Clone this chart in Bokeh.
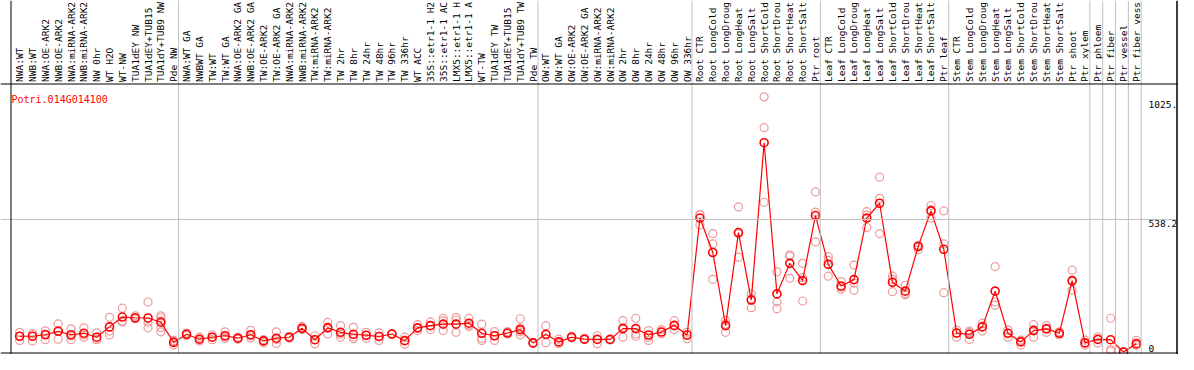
import numpy as np
from bokeh.plotting import figure
from bokeh.models import Range1d, Span
from bokeh.core.properties import value
from bokeh.embed import file_html
from bokeh.resources import INLINE

gene = "Potri.014G014100"

labels = [
    "NWA:WT", "NWB:WT", "NWA:OE-ARK2", "NWB:OE-ARK2", "NWA:miRNA-ARK2", "NWB:miRNA-ARK2",
    "NW 0hr", "WT H2O", "WT-NW", "TUA1dEY NW", "TUA1dEY+TUB15", "TUA1dY+TUB9 NW", "Pde NW",
    "NWA:WT GA", "NWBWT GA", "TW:WT", "TW:WT GA", "NWA:OE-ARK2 GA", "NWB:OE-ARK2 GA",
    "TW:OE-ARK2", "TW:OE-ARK2 GA", "NWA:miRNA-ARK2", "NWB:miRNA-ARK2", "TW:miRNA-ARK2",
    "TW:miRNA-ARK2", "TW 2hr", "TW 8hr", "TW 24hr", "TW 48hr", "TW 96hr", "TW 336hr",
    "WT ACC", "35S::etr1-1 H2", "35S::etr1-1 AC", "LMX5::etr1-1 H", "LMX5::etr1-1 A",
    "WT-TW", "TUA1dEY TW", "TUA1dEY+TUB15", "TUA1dY+TUB9 TW", "Pde TW",
    "OW:WT", "OW:WT GA", "OW:OE-ARK2", "OW:OE-ARK2 GA", "OW:miRNA-ARK2", "OW:miRNA-ARK2",
    "OW 2hr", "OW 8hr", "OW 24hr", "OW 48hr", "OW 96hr", "OW 336hr",
    "Root CTR", "Root LongCold", "Root LongDroug", "Root LongHeat", "Root LongSalt",
    "Root ShortCold", "Root ShortDrou", "Root ShortHeat", "Root ShortSalt", "Ptr root",
    "Leaf CTR", "Leaf LongCold", "Leaf LongDroug", "Leaf LongHeat", "Leaf LongSalt",
    "Leaf ShortCold", "Leaf ShortDrou", "Leaf ShortHeat", "Leaf ShortSalt", "Ptr leaf",
    "Stem CTR", "Stem LongCold", "Stem LongDroug", "Stem LongHeat", "Stem LongSalt",
    "Stem ShortCold", "Stem ShortDrou", "Stem ShortHeat", "Stem ShortSalt", "Ptr shoot",
    "Ptr xylem", "Ptr phloem", "Ptr fiber", "Ptr vessel", "Ptr fiber vess",
]

means = [
    64, 64, 70, 84, 70, 76, 60, 102, 142, 139, 138, 121, 39,
    72, 52, 60, 66, 56, 70, 45, 56, 60, 96, 50, 98, 80, 72, 68, 63, 73, 46, 98, 107, 113,
    113, 117, 76, 66, 77, 91, 37,
    72, 41, 60, 52, 51, 51, 95, 95, 69, 81, 108, 69,
    544, 404, 107, 485, 211, 850, 236, 360, 290, 554,
    356, 268, 294, 544, 604, 283, 247, 428, 573, 417,
    77, 72, 102, 247, 76, 41, 87, 94, 76, 290, 37,
    51, 50, 0, 34,
]

replicates = [
    [80, 64, 47], [73, 74, 45], [73, 86, 50], [114, 87, 52], [94, 65, 50], [98, 69, 60],
    [78, 52, 50], [141, 85, 69], [178, 126, 121], [147, 135, 135], [203, 121, 98],
    [147, 139, 126, 100, 82], [47, 42, 28],
    [77, 72, 67], [60, 52, 45], [70, 60, 50], [82, 60, 56], [60, 56, 52], [88, 65, 56],
    [50, 47, 38], [82, 51, 35], [64, 60, 56], [104, 94, 91], [66, 50, 34], [120, 102, 73],
    [107, 72, 60], [100, 61, 54], [80, 68, 56], [78, 64, 47], [75, 73, 71], [60, 47, 31],
    [111, 96, 87], [122, 108, 91], [137, 127, 87], [141, 130, 80], [137, 110, 104],
    [113, 56, 47], [83, 66, 47], [83, 77, 73], [135, 98, 82, 69], [39, 37, 35],
    [107, 70, 38], [52, 41, 34], [64, 60, 57], [55, 52, 50], [66, 53, 34], [53, 51, 49],
    [127, 99, 60], [137, 73, 64], [87, 60, 47], [91, 81, 73], [127, 106, 91], [80, 69, 54],
    [558, 558, 516], [481, 439, 295], [129, 113, 80], [589, 480, 385], [236, 216, 180],
    [1036, 911, 608], [325, 203, 176], [395, 389, 299], [360, 302, 207], [650, 568, 447],
    [387, 372, 308], [286, 263, 255], [353, 280, 251], [570, 556, 506], [710, 624, 481],
    [308, 295, 245], [271, 238, 232], [433, 433, 415], [595, 578, 544], [573, 439, 241],
    [89, 76, 60], [85, 79, 51], [117, 104, 85], [347, 203, 190], [89, 76, 60], [48, 47, 28],
    [111, 91, 60], [107, 96, 80], [82, 76, 69], [332, 286, 251], [48, 38, 28],
    [62, 54, 37], [137, 10, 3], [0, 0, 0], [47, 28, 27],
]

group_ends = [13, 41, 53, 63, 73, 84, 85, 86, 87, 88]
grid_value = 538.2
tick_values = [1025.0, 538.2]
tick_labels = ["1025.", "538.2"]
zero_label = "0"

# ---- geometry (canvas pixels) ----
W, H = 1178, 354
PX_PER_CAT = 12.835      # horizontal pixels per category
X0 = 12.76               # canvas x of category coordinate 0
PX_PER_UNIT = 0.24626    # vertical pixels per expression unit
Y0 = 351.5               # canvas y of value 0

x_start = -X0 / PX_PER_CAT
x_end = (W - X0) / PX_PER_CAT
y_end = Y0 / PX_PER_UNIT
y_start = (Y0 - H) / PX_PER_UNIT


def xpx(px):  # canvas px -> data x
    return (px - X0) / PX_PER_CAT


def ypx(py):  # canvas px -> data y
    return (Y0 - py) / PX_PER_UNIT


n = len(labels)
xs = [i + 0.5 for i in range(n)]

p = figure(width=W, height=H, x_range=Range1d(x_start, x_end), y_range=Range1d(y_start, y_end),
           output_backend="svg", toolbar_location=None, x_axis_location=None, y_axis_location=None,
           min_border=0, outline_line_color=None, background_fill_color="white",
           border_fill_color="white")
p.xgrid.visible = False
p.ygrid.visible = False

GRID = "#c0c0c0"
for k in group_ends:
    p.add_layout(Span(location=k - 0.12, dimension="height", line_color=GRID, line_width=1))
p.add_layout(Span(location=grid_value, dimension="width", line_color=GRID, line_width=1))

# frame lines
p.add_layout(Span(location=xpx(10.5), dimension="height", line_color="black", line_width=1))
p.add_layout(Span(location=xpx(1176.5), dimension="height", line_color="black", line_width=1.5))
p.add_layout(Span(location=ypx(83.5), dimension="width", line_color="black", line_width=1))
p.add_layout(Span(location=ypx(352.5), dimension="width", line_color="black", line_width=1))

# replicates
rx, ry = [], []
for i, reps in enumerate(replicates):
    for v in reps:
        rx.append(xs[i])
        ry.append(v)
p.scatter(rx, ry, marker="circle", size=8, fill_color=None, line_color="#ee9a9a", line_width=1.2)

# mean line and points
p.line(xs, means, line_color="#ff0000", line_width=1.2)
p.scatter(xs, means, marker="circle", size=8, fill_color=None, line_color="#ff0000", line_width=1.6)

FONT = value("DejaVu Sans Mono")
FS = "9.5px"
# category labels (vertical)
p.text(x=xs, y=[ypx(81.5)] * n, text=labels, angle=np.pi / 2, text_align="left",
       text_baseline="middle", text_font=FONT, text_font_size=FS, text_color="black")

# gene id
p.text(x=[xpx(11.0)], y=[ypx(99.0)], text=[gene], text_align="left", text_baseline="alphabetic",
       text_font=FONT, text_font_size="10px", text_color="#ff0000")

# value labels on the right
tx = xpx(1148.0)
p.text(x=[tx] * len(tick_values), y=tick_values, text=tick_labels, text_align="left",
       text_baseline="top", y_offset=1, text_font=FONT, text_font_size=FS, text_color="black")
p.text(x=[tx], y=[0], text=[zero_label], text_align="left", text_baseline="alphabetic",
       y_offset=-3.5, text_font=FONT, text_font_size=FS, text_color="black")

open("out.html", "w").write(file_html(p, INLINE))
